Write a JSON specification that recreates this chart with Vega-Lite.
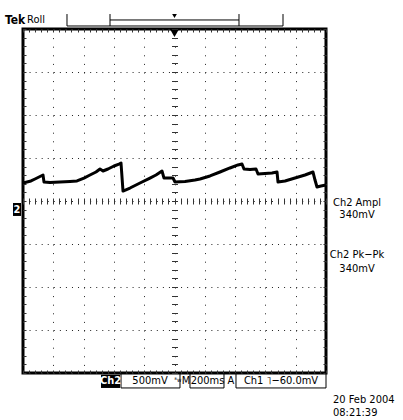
{
  "$schema": "https://vega.github.io/schema/vega-lite/v6.json",
  "width": 303,
  "height": 344,
  "autosize": {"type": "none"},
  "padding": {"left": 23, "top": 29, "right": 77, "bottom": 47},
  "background": "white",
  "config": {
    "view": {"stroke": "black", "strokeWidth": 3},
    "text": {"font": "DejaVu Sans Condensed, Liberation Sans Narrow, sans-serif"}
  },
  "datasets": {
    "trace": [
      {"t": -1000.0, "v": 0.209}, {"t": -973.6, "v": 0.221}, {"t": -947.2, "v": 0.233}, {"t": -920.8, "v": 0.256},
      {"t": -894.4, "v": 0.279}, {"t": -868.0, "v": 0.302}, {"t": -861.4, "v": 0.221}, {"t": -821.8, "v": 0.215},
      {"t": -755.8, "v": 0.221}, {"t": -689.8, "v": 0.227}, {"t": -643.6, "v": 0.233}, {"t": -597.4, "v": 0.267},
      {"t": -557.8, "v": 0.302}, {"t": -518.2, "v": 0.337}, {"t": -491.8, "v": 0.372}, {"t": -471.9, "v": 0.349},
      {"t": -438.9, "v": 0.372}, {"t": -399.3, "v": 0.407}, {"t": -366.3, "v": 0.43}, {"t": -353.1, "v": 0.442},
      {"t": -339.9, "v": 0.116}, {"t": -293.7, "v": 0.151}, {"t": -227.7, "v": 0.209}, {"t": -161.7, "v": 0.267},
      {"t": -122.1, "v": 0.302}, {"t": -82.5, "v": 0.349}, {"t": -69.3, "v": 0.267}, {"t": -29.7, "v": 0.267},
      {"t": -9.9, "v": 0.267}, {"t": 3.3, "v": 0.221}, {"t": 69.3, "v": 0.227}, {"t": 135.3, "v": 0.244},
      {"t": 168.3, "v": 0.256}, {"t": 234.3, "v": 0.291}, {"t": 300.3, "v": 0.337}, {"t": 366.3, "v": 0.384},
      {"t": 419.1, "v": 0.419}, {"t": 445.5, "v": 0.43}, {"t": 458.7, "v": 0.372}, {"t": 498.3, "v": 0.366},
      {"t": 538.0, "v": 0.372}, {"t": 551.2, "v": 0.314}, {"t": 597.4, "v": 0.32}, {"t": 643.6, "v": 0.326},
      {"t": 676.6, "v": 0.337}, {"t": 683.2, "v": 0.221}, {"t": 729.4, "v": 0.233}, {"t": 795.4, "v": 0.267},
      {"t": 861.4, "v": 0.302}, {"t": 914.2, "v": 0.337}, {"t": 927.4, "v": 0.244}, {"t": 940.6, "v": 0.163},
      {"t": 967.0, "v": 0.174}, {"t": 1000.0, "v": 0.186}
    ],
    "segments": [
      {"x1": -709.6, "x2": -709.6, "y1": 2.174, "y2": 2.035},
      {"x1": 716.2, "x2": 716.2, "y1": 2.174, "y2": 2.035},
      {"x1": -425.7, "x2": -425.7, "y1": 2.174, "y2": 2.035},
      {"x1": 425.7, "x2": 425.7, "y1": 2.174, "y2": 2.035},
      {"x1": -709.6, "x2": 716.2, "y1": 2.035, "y2": 2.035},
      {"x1": -425.7, "x2": 425.7, "y1": 2.105, "y2": 2.105},
      {"x1": -353.1, "x2": -353.1, "y1": -2.0, "y2": -2.174},
      {"x1": 36.3, "x2": 36.3, "y1": -2.0, "y2": -2.174},
      {"x1": -353.1, "x2": 36.3, "y1": -2.174, "y2": -2.174},
      {"x1": 102.3, "x2": 102.3, "y1": -2.0, "y2": -2.174},
      {"x1": 326.7, "x2": 326.7, "y1": -2.0, "y2": -2.174},
      {"x1": 102.3, "x2": 326.7, "y1": -2.174, "y2": -2.174},
      {"x1": 405.9, "x2": 405.9, "y1": -2.0, "y2": -2.174},
      {"x1": 1000, "x2": 1000, "y1": -2.0, "y2": -2.174},
      {"x1": 405.9, "x2": 1000, "y1": -2.174, "y2": -2.174}
    ],
    "boxes": [
      {"x1": -485.1, "x2": -359.7, "y1": -2.02, "y2": -2.174},
      {"x1": -1065.9, "x2": -1013.1, "y1": -0.023, "y2": -0.174}
    ],
    "markers": [
      {"x": 0, "y": 1.95, "kind": "big"},
      {"x": 0, "y": 2.151, "kind": "small"}
    ],
    "labels": [
      {"x": -1118.8, "y": 2.105, "text": "Tek", "kind": "tek"},
      {"x": -973.6, "y": 2.105, "text": "Roll", "kind": "left"},
      {"x": 1204.6, "y": -0.023, "text": "Ch2 Ampl", "kind": "center"},
      {"x": 1204.6, "y": -0.163, "text": "340mV", "kind": "center"},
      {"x": 1204.6, "y": -0.628, "text": "Ch2 Pk−Pk", "kind": "center"},
      {"x": 1204.6, "y": -0.791, "text": "340mV", "kind": "center"},
      {"x": -161.7, "y": -2.093, "text": "500mV", "kind": "center"},
      {"x": 75.9, "y": -2.093, "text": "M", "kind": "center"},
      {"x": 217.8, "y": -2.093, "text": "200ms", "kind": "center"},
      {"x": 372.9, "y": -2.093, "text": "A", "kind": "center"},
      {"x": 703.0, "y": -2.093, "text": "Ch1 ˥−60.0mV", "kind": "center"},
      {"x": 1046.2, "y": -2.314, "text": "20 Feb  2004", "kind": "left"},
      {"x": 1046.2, "y": -2.465, "text": "08:21:39", "kind": "left"},
      {"x": -422.4, "y": -2.093, "text": "Ch2", "kind": "white"},
      {"x": -1039.6, "y": -0.099, "text": "2", "kind": "white"},
      {"x": 23.1, "y": -2.08, "text": "ᴮw", "kind": "small"}
    ]
  },
  "resolve": {"axis": {"x": "independent", "y": "independent"}},
  "layer": [
    {
      "data": {"name": "trace"},
      "mark": {"type": "line", "color": "black", "strokeWidth": 3, "strokeJoin": "round"},
      "encoding": {
        "x": {"field": "t", "type": "quantitative",
          "scale": {"domain": [-1000, 1000], "nice": false, "zero": false},
          "axis": {"orient": "bottom", "values": [-1000, -800, -600, -400, -200, 0, 200, 400, 600, 800, 1000],
            "grid": true, "gridDash": [1, 7.6], "gridColor": "#222", "gridWidth": 1,
            "labels": false, "ticks": false, "domain": false, "title": null}},
        "y": {"field": "v", "type": "quantitative",
          "scale": {"domain": [-2, 2], "nice": false, "zero": false},
          "axis": {"orient": "left", "values": [-2, -1.5, -1, -0.5, 0, 0.5, 1, 1.5, 2],
            "grid": true, "gridDash": [1, 5.06], "gridColor": "#222", "gridWidth": 1,
            "labels": false, "ticks": false, "domain": false, "title": null}}
      }
    },
    {
      "data": {"name": "segments"},
      "mark": {"type": "rule", "color": "black", "strokeWidth": 1},
      "encoding": {
        "x": {"field": "x1", "type": "quantitative",
          "scale": {"domain": [-1000, 1000], "nice": false, "zero": false},
          "axis": {"orient": "bottom", "offset": -175,
            "values": [-1000,-960,-920,-880,-840,-800,-760,-720,-680,-640,-600,-560,-520,-480,-440,-400,-360,-320,-280,-240,-200,-160,-120,-80,-40,0,40,80,120,160,200,240,280,320,360,400,440,480,520,560,600,640,680,720,760,800,840,880,920,960,1000],
            "tickSize": 6, "tickColor": "#333", "tickWidth": 1,
            "labels": false, "domain": false, "grid": false, "title": null}},
        "x2": {"field": "x2"},
        "y": {"field": "y1", "type": "quantitative",
          "scale": {"domain": [-2, 2], "nice": false, "zero": false},
          "axis": {"orient": "left", "offset": -154.5,
            "values": [-2,-1.9,-1.8,-1.7,-1.6,-1.5,-1.4,-1.3,-1.2,-1.1,-1,-0.9,-0.8,-0.7,-0.6,-0.5,-0.4,-0.3,-0.2,-0.1,0,0.1,0.2,0.3,0.4,0.5,0.6,0.7,0.8,0.9,1,1.1,1.2,1.3,1.4,1.5,1.6,1.7,1.8,1.9,2],
            "tickSize": 6, "tickColor": "#333", "tickWidth": 1,
            "labels": false, "domain": false, "grid": false, "title": null}},
        "y2": {"field": "y2"}
      }
    },
    {
      "data": {"name": "boxes"},
      "mark": {"type": "rect", "color": "black"},
      "encoding": {
        "x": {"field": "x1", "type": "quantitative",
          "scale": {"domain": [-1000, 1000], "nice": false, "zero": false},
          "axis": {"orient": "top", "offset": -344,
            "values": [-1000,-960,-920,-880,-840,-800,-760,-720,-680,-640,-600,-560,-520,-480,-440,-400,-360,-320,-280,-240,-200,-160,-120,-80,-40,0,40,80,120,160,200,240,280,320,360,400,440,480,520,560,600,640,680,720,760,800,840,880,920,960,1000],
            "tickSize": 3, "tickColor": "#333", "tickWidth": 1,
            "labels": false, "domain": false, "grid": false, "title": null}},
        "x2": {"field": "x2"},
        "y": {"field": "y1", "type": "quantitative",
          "scale": {"domain": [-2, 2], "nice": false, "zero": false},
          "axis": {"orient": "right", "offset": -303,
            "values": [-2,-1.9,-1.8,-1.7,-1.6,-1.5,-1.4,-1.3,-1.2,-1.1,-1,-0.9,-0.8,-0.7,-0.6,-0.5,-0.4,-0.3,-0.2,-0.1,0,0.1,0.2,0.3,0.4,0.5,0.6,0.7,0.8,0.9,1,1.1,1.2,1.3,1.4,1.5,1.6,1.7,1.8,1.9,2],
            "tickSize": 3, "tickColor": "#333", "tickWidth": 1,
            "labels": false, "domain": false, "grid": false, "title": null}},
        "y2": {"field": "y2"}
      }
    },
    {
      "data": {"name": "markers"},
      "mark": {"type": "point", "shape": "triangle-down", "filled": true, "color": "black", "opacity": 1},
      "encoding": {
        "x": {"field": "x", "type": "quantitative",
          "scale": {"domain": [-1000, 1000], "nice": false, "zero": false},
          "axis": {"orient": "bottom", "offset": -344,
            "values": [-1000,-960,-920,-880,-840,-800,-760,-720,-680,-640,-600,-560,-520,-480,-440,-400,-360,-320,-280,-240,-200,-160,-120,-80,-40,0,40,80,120,160,200,240,280,320,360,400,440,480,520,560,600,640,680,720,760,800,840,880,920,960,1000],
            "tickSize": 3, "tickColor": "#333", "tickWidth": 1,
            "labels": false, "domain": false, "grid": false, "title": null}},
        "y": {"field": "y", "type": "quantitative",
          "scale": {"domain": [-2, 2], "nice": false, "zero": false},
          "axis": {"orient": "left", "offset": -303,
            "values": [-2,-1.9,-1.8,-1.7,-1.6,-1.5,-1.4,-1.3,-1.2,-1.1,-1,-0.9,-0.8,-0.7,-0.6,-0.5,-0.4,-0.3,-0.2,-0.1,0,0.1,0.2,0.3,0.4,0.5,0.6,0.7,0.8,0.9,1,1.1,1.2,1.3,1.4,1.5,1.6,1.7,1.8,1.9,2],
            "tickSize": 3, "tickColor": "#333", "tickWidth": 1,
            "labels": false, "domain": false, "grid": false, "title": null}},
        "size": {"field": "kind", "type": "nominal", "scale": {"domain": ["big", "small"], "range": [70, 22]}, "legend": null}
      }
    },
    {
      "data": {"name": "labels"},
      "transform": [{"filter": "datum.kind === 'center'"}],
      "mark": {"type": "text", "fontSize": 11, "align": "center", "baseline": "middle", "color": "black"},
      "encoding": {
        "x": {"field": "x", "type": "quantitative", "scale": {"domain": [-1000, 1000], "nice": false, "zero": false}, "axis": null},
        "y": {"field": "y", "type": "quantitative", "scale": {"domain": [-2, 2], "nice": false, "zero": false}, "axis": null},
        "text": {"field": "text"}
      }
    },
    {
      "data": {"name": "labels"},
      "transform": [{"filter": "datum.kind === 'left'"}],
      "mark": {"type": "text", "fontSize": 11, "align": "left", "baseline": "middle", "color": "black"},
      "encoding": {
        "x": {"field": "x", "type": "quantitative", "scale": {"domain": [-1000, 1000], "nice": false, "zero": false}, "axis": null},
        "y": {"field": "y", "type": "quantitative", "scale": {"domain": [-2, 2], "nice": false, "zero": false}, "axis": null},
        "text": {"field": "text"}
      }
    },
    {
      "data": {"name": "labels"},
      "transform": [{"filter": "datum.kind === 'tek'"}],
      "mark": {"type": "text", "fontSize": 12, "fontWeight": "bold", "align": "left", "baseline": "middle", "color": "black", "letterSpacing": -1},
      "encoding": {
        "x": {"field": "x", "type": "quantitative", "scale": {"domain": [-1000, 1000], "nice": false, "zero": false}, "axis": null},
        "y": {"field": "y", "type": "quantitative", "scale": {"domain": [-2, 2], "nice": false, "zero": false}, "axis": null},
        "text": {"field": "text"}
      }
    },
    {
      "data": {"name": "labels"},
      "transform": [{"filter": "datum.kind === 'white'"}],
      "mark": {"type": "text", "fontSize": 11, "fontWeight": "bold", "align": "center", "baseline": "middle", "color": "white"},
      "encoding": {
        "x": {"field": "x", "type": "quantitative", "scale": {"domain": [-1000, 1000], "nice": false, "zero": false}, "axis": null},
        "y": {"field": "y", "type": "quantitative", "scale": {"domain": [-2, 2], "nice": false, "zero": false}, "axis": null},
        "text": {"field": "text"}
      }
    },
    {
      "data": {"name": "labels"},
      "transform": [{"filter": "datum.kind === 'small'"}],
      "mark": {"type": "text", "fontSize": 6, "align": "center", "baseline": "middle", "color": "black"},
      "encoding": {
        "x": {"field": "x", "type": "quantitative", "scale": {"domain": [-1000, 1000], "nice": false, "zero": false}, "axis": null},
        "y": {"field": "y", "type": "quantitative", "scale": {"domain": [-2, 2], "nice": false, "zero": false}, "axis": null},
        "text": {"field": "text"}
      }
    }
  ]
}
